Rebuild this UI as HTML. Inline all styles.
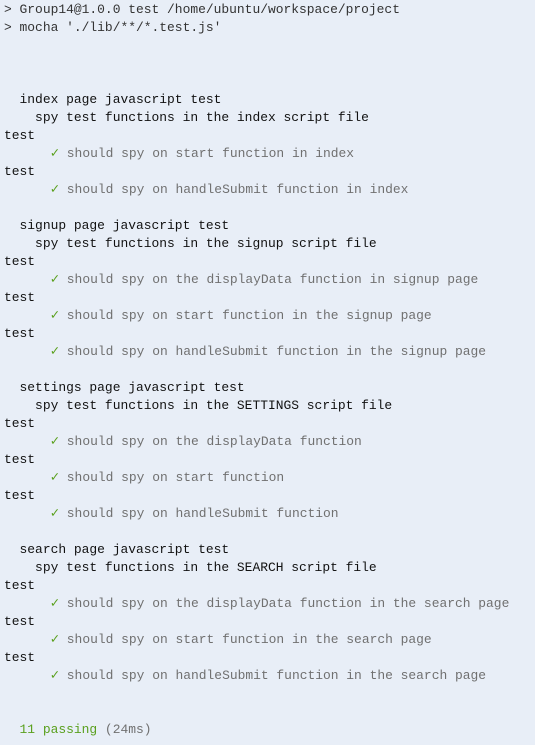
<!DOCTYPE html>
<html><head><style>
html,body{margin:0;padding:0;background:#e8eef7;width:535px;height:745px;overflow:hidden}
pre{margin:0;padding:1px 0 0 4px;font-family:"Liberation Mono","DejaVu Sans Mono",monospace;font-size:12.95px;line-height:18px;color:#111}
.h{color:#333}.g{color:#707070}.c{color:#5aa01e;font-size:14px}.p{color:#5aa01e}
</style></head><body><pre><span class="h">&gt; Group14@1.0.0 test /home/ubuntu/workspace/project
&gt; mocha './lib/**/*.test.js'</span>



  index page javascript test
    spy test functions in the index script file
test
      <span class="c">✓</span><span class="g"> should spy on start function in index</span>
test
      <span class="c">✓</span><span class="g"> should spy on handleSubmit function in index</span>

  signup page javascript test
    spy test functions in the signup script file
test
      <span class="c">✓</span><span class="g"> should spy on the displayData function in signup page</span>
test
      <span class="c">✓</span><span class="g"> should spy on start function in the signup page</span>
test
      <span class="c">✓</span><span class="g"> should spy on handleSubmit function in the signup page</span>

  settings page javascript test
    spy test functions in the SETTINGS script file
test
      <span class="c">✓</span><span class="g"> should spy on the displayData function</span>
test
      <span class="c">✓</span><span class="g"> should spy on start function</span>
test
      <span class="c">✓</span><span class="g"> should spy on handleSubmit function</span>

  search page javascript test
    spy test functions in the SEARCH script file
test
      <span class="c">✓</span><span class="g"> should spy on the displayData function in the search page</span>
test
      <span class="c">✓</span><span class="g"> should spy on start function in the search page</span>
test
      <span class="c">✓</span><span class="g"> should spy on handleSubmit function in the search page</span>


  <span class="p">11 passing</span><span class="g"> (24ms)</span>
</pre></body></html>
